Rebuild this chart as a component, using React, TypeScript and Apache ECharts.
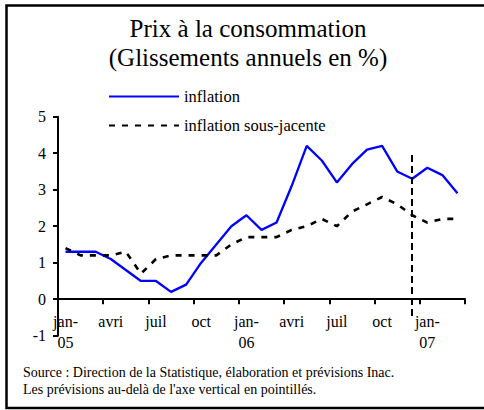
import React, { useEffect, useRef } from "react";
import * as echarts from "echarts";

const categories = [
  "jan-05", "févr-05", "mars-05", "avri-05", "mai-05", "juin-05", "juil-05", "août-05", "sept-05", "oct-05", "nov-05", "déc-05",
  "jan-06", "févr-06", "mars-06", "avri-06", "mai-06", "juin-06", "juil-06", "août-06", "sept-06", "oct-06", "nov-06", "déc-06",
  "jan-07", "févr-07", "mars-07",
];
const inflation = [1.3, 1.3, 1.3, 1.1, 0.8, 0.5, 0.5, 0.2, 0.4, 1.0, 1.5, 2.0, 2.3, 1.9, 2.1, 3.1, 4.2, 3.8, 3.2, 3.7, 4.1, 4.2, 3.5, 3.3, 3.6, 3.4, 2.9];
const inflationSousJacente = [1.4, 1.2, 1.2, 1.2, 1.3, 0.7, 1.1, 1.2, 1.2, 1.2, 1.2, 1.5, 1.7, 1.7, 1.7, 1.9, 2.0, 2.2, 2.0, 2.4, 2.6, 2.8, 2.6, 2.3, 2.1, 2.2, 2.2];
const forecastStart = "déc-06";
const forecastLineRange = [3.95, -0.57];
const yMin = -1;
const yMax = 5;
const yInterval = 1;
const titleLines = ["Prix à la consommation", "(Glissements annuels en %)"];
const sourceLines = [
  "Source : Direction de la Statistique, élaboration et prévisions Inac.",
  "Les prévisions au-delà de l'axe vertical en pointillés.",
];

const FONT = "Liberation Serif";

const GRID_TOP = 116.7;
const GRID_BOTTOM_Y = 335.7;
const unitPx = (GRID_BOTTOM_Y - GRID_TOP) / (yMax - yMin);
const zeroOffset = -(0 - yMin) * unitPx;

export default function App() {
  const ref = useRef<HTMLDivElement>(null);
  useEffect(() => {
    if (!ref.current) return;
    const chart = echarts.init(ref.current, null, { renderer: "svg" });
    chart.setOption({
      animation: false,
      backgroundColor: "#fff",
      textStyle: { fontFamily: FONT },
      grid: { left: 58, right: 19, top: GRID_TOP, bottom: 410 - GRID_BOTTOM_Y },
      legend: {
        orient: "vertical",
        left: 108,
        top: 88,
        padding: 0,
        itemWidth: 70,
        itemHeight: 14,
        itemGap: 12,
        itemStyle: { opacity: 0 },
        textStyle: { fontFamily: FONT, fontSize: 16.5, color: "#000" },
        data: ["inflation", "inflation sous-jacente"],
      },
      xAxis: {
        type: "category",
        data: categories,
        boundaryGap: true,
        offset: zeroOffset,
        axisLine: { onZero: false, lineStyle: { color: "#000", width: 2 } },
        axisTick: { show: true, interval: 2, length: 5, lineStyle: { color: "#000", width: 2 } },
        axisLabel: {
          interval: 2,
          margin: 12,
          fontFamily: FONT,
          fontSize: 16,
          lineHeight: 21,
          color: "#000",
          formatter: (v: string) => {
            const [m, y] = v.split("-");
            return m === "jan" ? "jan-\n" + y : m;
          },
        },
        splitLine: { show: false },
      },
      yAxis: {
        type: "value",
        min: yMin,
        max: yMax,
        interval: yInterval,
        axisLine: { show: true, lineStyle: { color: "#000", width: 2 } },
        axisTick: { show: true, length: 5, lineStyle: { color: "#000", width: 2 } },
        axisLabel: { margin: 12, fontFamily: FONT, fontSize: 16, color: "#000" },
        splitLine: { show: false },
      },
      series: [
        {
          name: "inflation",
          type: "line",
          data: inflation,
          symbol: "none",
          lineStyle: { color: "#0000ff", width: 2.3 },
          itemStyle: { color: "#0000ff" },
        },
        {
          name: "inflation sous-jacente",
          type: "line",
          data: inflationSousJacente,
          symbol: "none",
          lineStyle: { color: "#000", width: 2.6, type: [6, 7] },
          itemStyle: { color: "#000" },
          markLine: {
            silent: true,
            symbol: ["none", "none"],
            label: { show: false },
            lineStyle: { color: "#000", width: 2, type: [7, 4] },
            data: [
              [
                { coord: [forecastStart, forecastLineRange[0]] },
                { coord: [forecastStart, forecastLineRange[1]] },
              ],
            ],
          },
        },
      ],
      graphic: [
        {
          type: "rect",
          shape: { x: 6.5, y: 5.5, width: 520, height: 402.5 },
          style: { fill: "none", stroke: "#000", lineWidth: 2.5 },
          silent: true,
        },
        {
          type: "text",
          x: 248,
          y: 28,
          style: { text: titleLines[0], fontFamily: FONT, fontSize: 25, fill: "#000", align: "center", verticalAlign: "middle" },
        },
        {
          type: "text",
          x: 248,
          y: 57,
          style: { text: titleLines[1], fontFamily: FONT, fontSize: 25, fill: "#000", align: "center", verticalAlign: "middle" },
        },
        {
          type: "text",
          x: 23,
          y: 372,
          style: { text: sourceLines[0], fontFamily: FONT, fontSize: 14, fill: "#000", align: "left", verticalAlign: "middle" },
        },
        {
          type: "text",
          x: 23,
          y: 389.5,
          style: { text: sourceLines[1], fontFamily: FONT, fontSize: 14, fill: "#000", align: "left", verticalAlign: "middle" },
        },
      ],
    });
    return () => chart.dispose();
  }, []);
  return <div ref={ref} style={{ position: "absolute", left: 0, top: 0, width: 484, height: 410 }} />;
}
